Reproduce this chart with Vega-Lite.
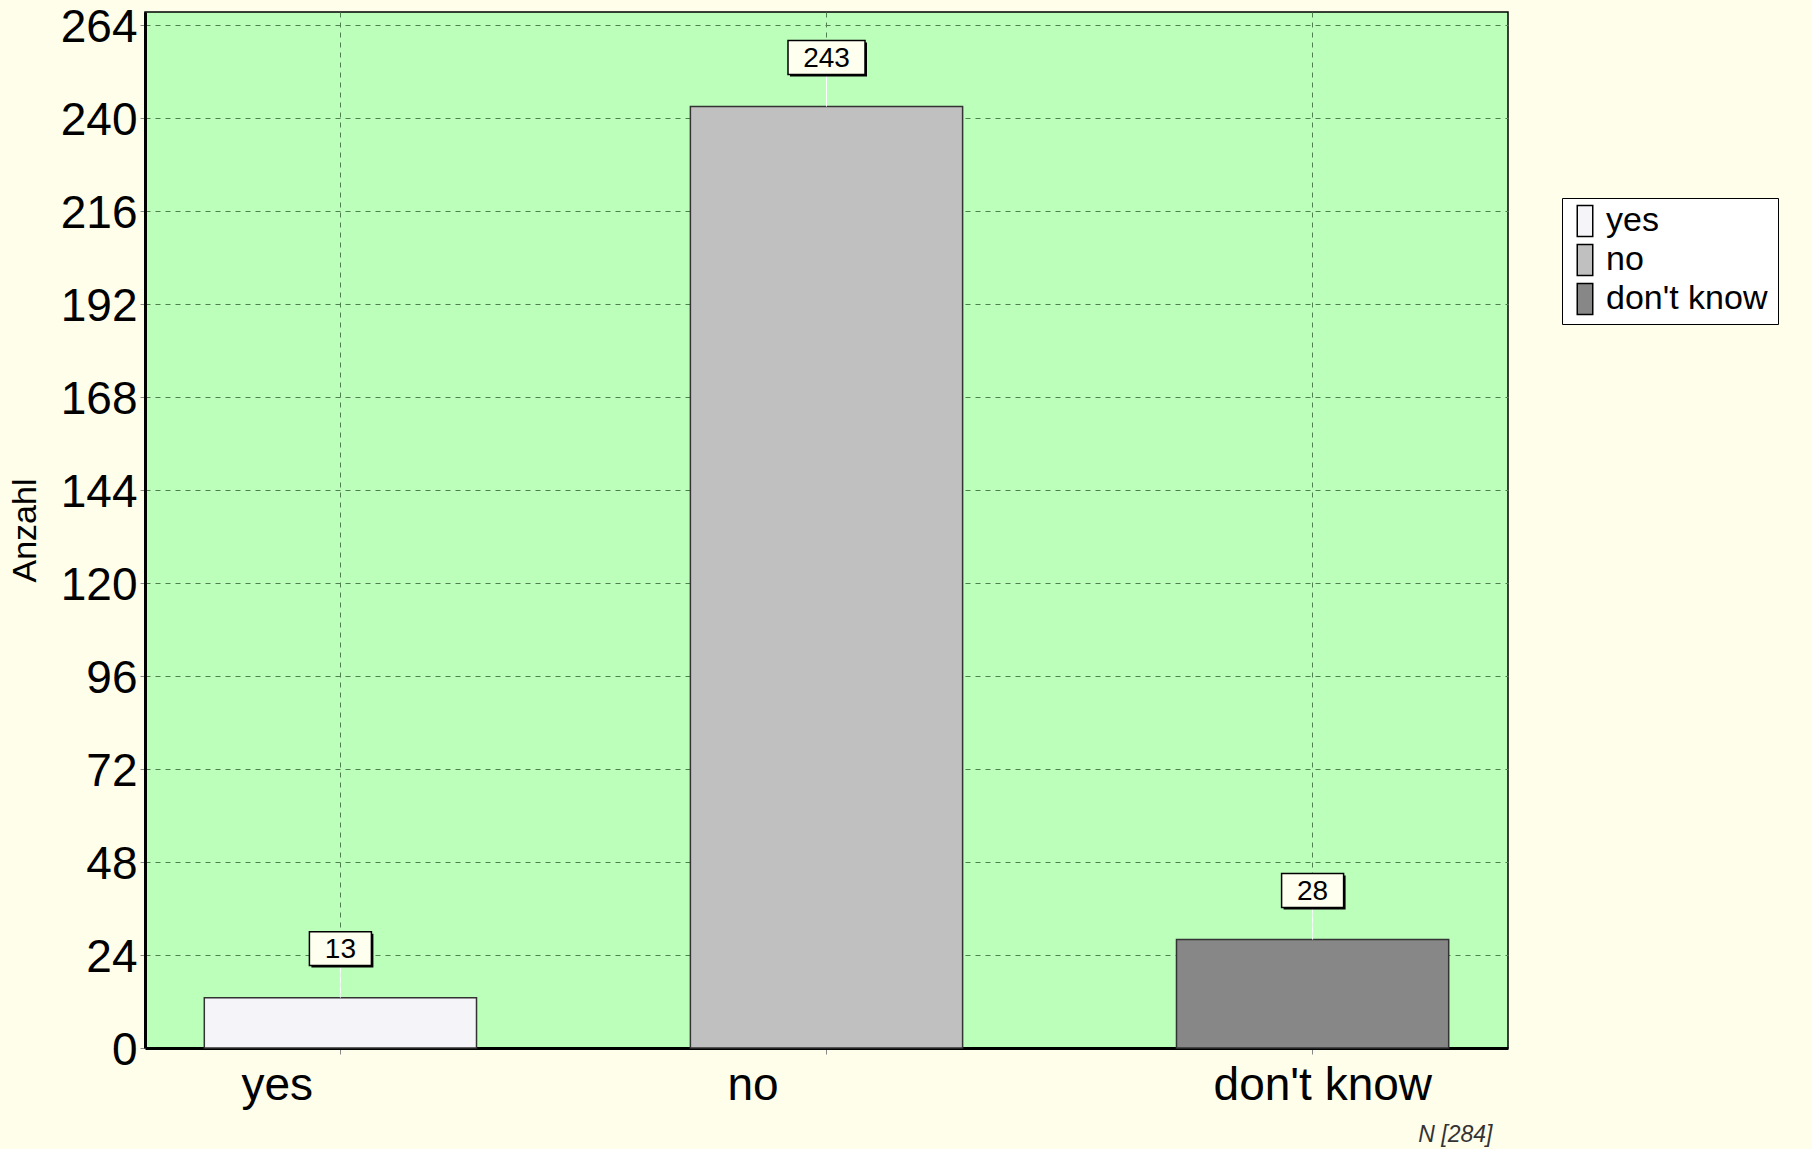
{
  "$schema": "https://vega.github.io/schema/vega-lite/v6.json",
  "autosize": {"type": "none"},
  "width": 1363,
  "height": 1036,
  "padding": {"left": 145, "top": 12, "right": 304, "bottom": 101},
  "background": "#FEFEEA",
  "config": {
    "font": "Liberation Sans",
    "view": {"fill": "#BBFFBB", "stroke": "#000000", "strokeWidth": 1.5},
    "axis": {"gridColor": "#4F7F4F", "gridDash": [5, 5], "gridWidth": 1, "gridOpacity": 1, "domainColor": "#000000", "domainWidth": 3, "tickColor": "#888888", "labelColor": "#000000"}
  },
  "data": {"values": [
    {"answer": "yes", "count": 13},
    {"answer": "no", "count": 243},
    {"answer": "don't know", "count": 28}
  ]},
  "encoding": {
    "x": {"field": "answer", "type": "nominal", "sort": null,
      "scale": {"paddingInner": 0.44, "paddingOuter": 0.122},
      "axis": {"title": "N [284]", "titleFontStyle": "italic", "titleFontWeight": "normal", "titleFontSize": 23, "titleColor": "#333333",
        "titleX": 1347, "titleY": 86, "titleAlign": "right", "titleBaseline": "middle", "titleAnchor": null,
        "grid": true, "bandPosition": 0.5, "labelAngle": 0, "labelFontSize": 46, "labelAlign": "left", "labelOffset": -99, "labelLimit": 500, "labelBaseline": "top", "labelPadding": 9, "tickSize": 6}},
    "y": {"field": "count", "type": "quantitative",
      "scale": {"domain": [0, 267.4], "nice": false, "zero": true},
      "axis": {"values": [0, 24, 48, 72, 96, 120, 144, 168, 192, 216, 240, 264], "title": "Anzahl", "titleFontSize": 34, "titleFontWeight": "normal",
        "titleX": -120, "titleY": 518, "titleAngle": -90, "titleAlign": "center", "titleBaseline": "middle",
        "grid": true, "labelFontSize": 46, "labelPadding": 3, "labelOffset": 2, "tickSize": 5}}
  },
  "layer": [
    {
      "mark": {"type": "bar", "stroke": "#333333", "strokeWidth": 1.5, "opacity": 1},
      "encoding": {
        "color": {"field": "answer", "type": "nominal", "sort": null,
          "scale": {"domain": ["yes", "no", "don't know"], "range": ["#F5F4F8", "#C0C0C0", "#878787"]},
          "legend": {"orient": "none", "legendX": 1417, "legendY": 186, "title": "    ", "titleOrient": "right", "titleFontSize": 33,
            "fillColor": "#FFFFFF", "strokeColor": "#000000", "padding": 6,
            "symbolType": "M-0.5,-1H0.5V1H-0.5Z", "symbolSize": 961, "symbolStrokeColor": "#000000", "symbolStrokeWidth": 1.5, "symbolOpacity": 1,
            "labelFontSize": 34, "labelLimit": 400, "labelColor": "#000000", "labelOffset": 4, "rowPadding": 1}}
      }
    },
    {
      "mark": {"type": "rule", "color": "#FFFFFF", "strokeWidth": 1, "y2Offset": -32},
      "encoding": {"y2": {"field": "count"}}
    },
    {
      "mark": {"type": "point", "filled": true, "fill": "#000000", "opacity": 1, "strokeWidth": 0, "yOffset": -47, "xOffset": 2},
      "encoding": {
        "shape": {"condition": {"test": "datum.count >= 100", "value": "M-1,-0.442H1V0.442H-1Z"}, "value": "M-1,-0.548H1V0.548H-1Z"},
        "size": {"condition": {"test": "datum.count >= 100", "value": 5929}, "value": 3844}
      }
    },
    {
      "mark": {"type": "point", "filled": true, "fill": "#FFFFF0", "stroke": "#000000", "strokeWidth": 1.5, "opacity": 1, "yOffset": -49},
      "encoding": {
        "shape": {"condition": {"test": "datum.count >= 100", "value": "M-1,-0.442H1V0.442H-1Z"}, "value": "M-1,-0.548H1V0.548H-1Z"},
        "size": {"condition": {"test": "datum.count >= 100", "value": 5929}, "value": 3844}
      }
    },
    {
      "mark": {"type": "text", "fontSize": 28, "color": "#000000", "baseline": "middle", "align": "center", "yOffset": -48},
      "encoding": {"text": {"field": "count", "type": "quantitative"}}
    }
  ]
}
